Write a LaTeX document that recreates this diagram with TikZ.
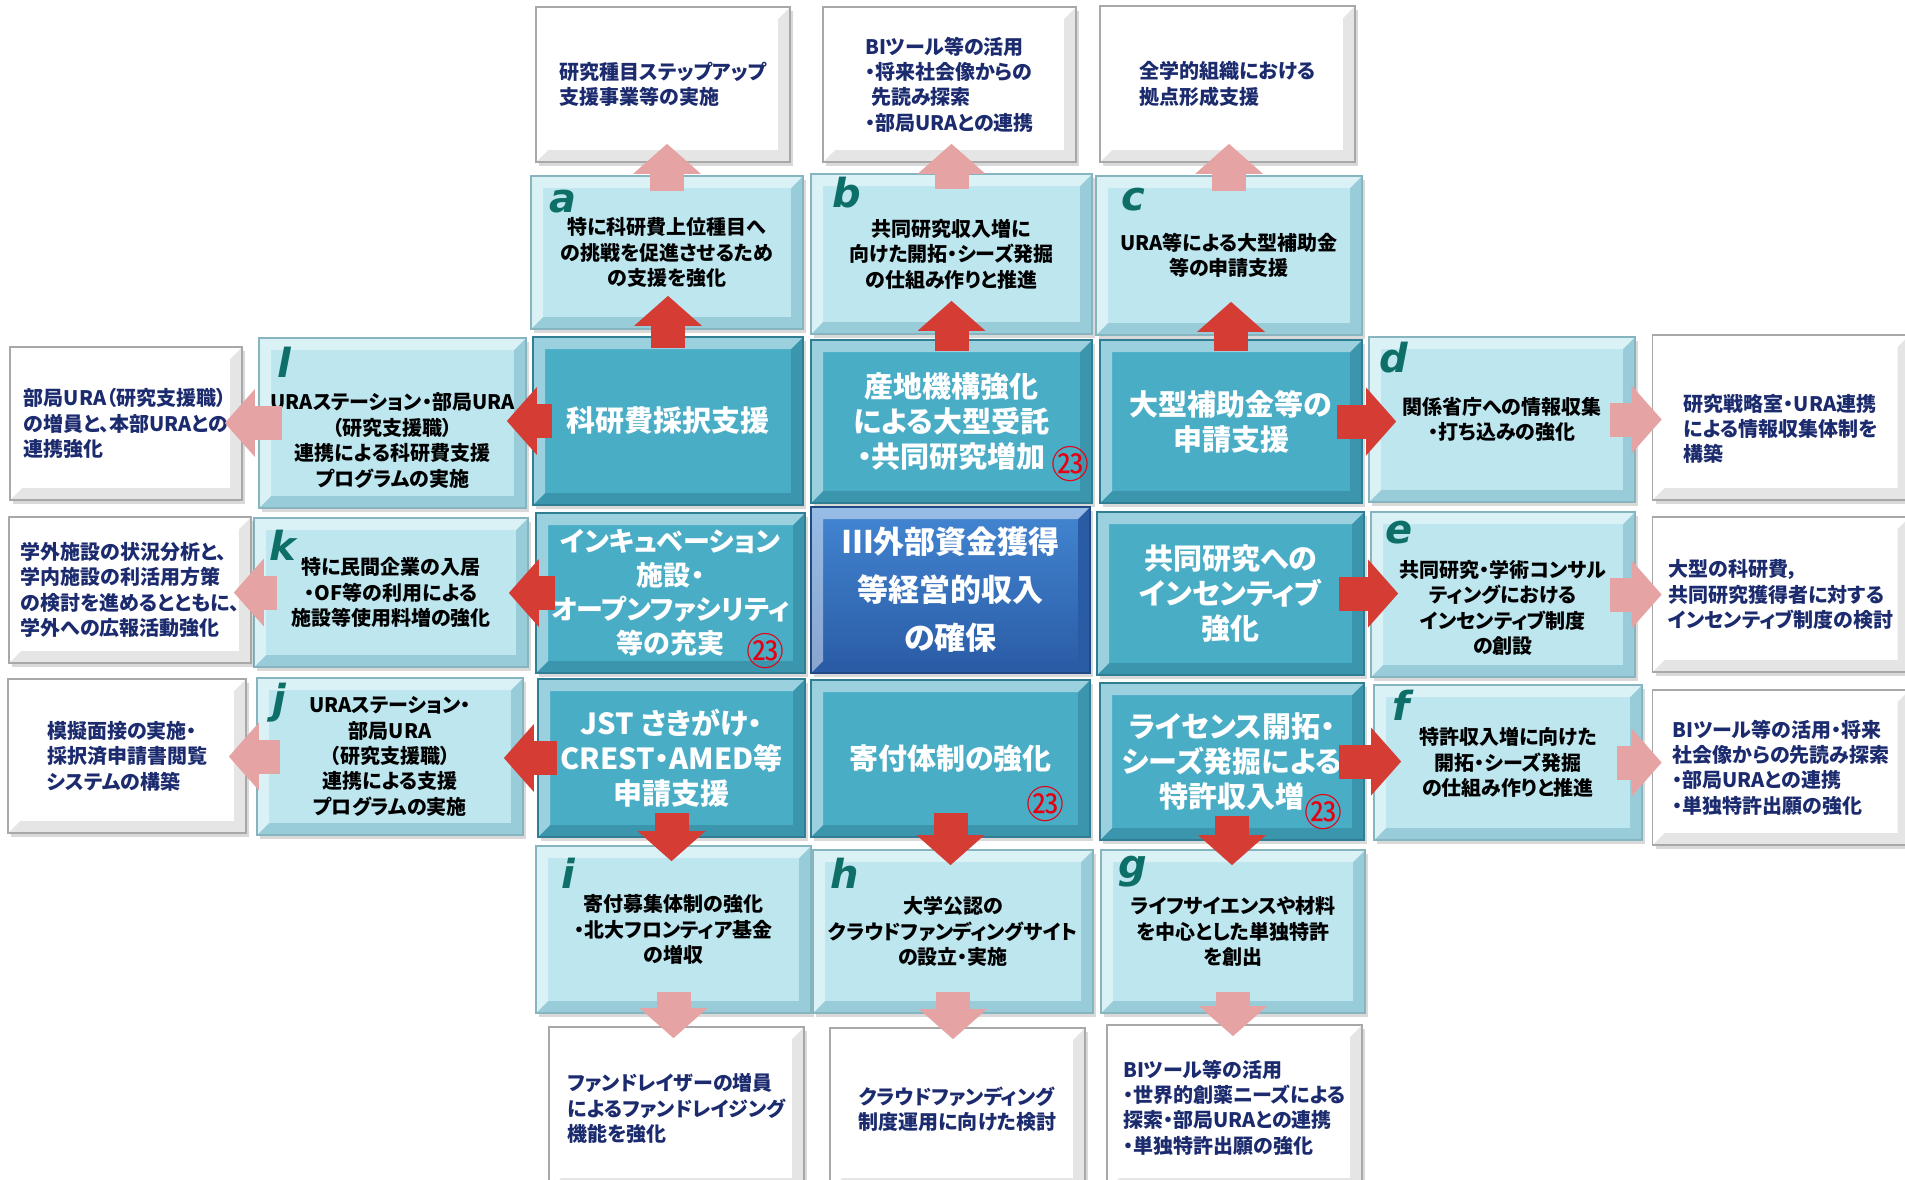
\documentclass[tikz,border=0pt]{standalone}
\usepackage{fontspec}
\setmainfont{Noto Sans CJK JP}[RawFeature=+palt]
\newfontfamily\tagfont{DejaVu Sans}
\usetikzlibrary{arrows.meta,calc,shadows}

\definecolor{navy}{HTML}{1B2B6E}
\definecolor{lightface}{HTML}{BDE6EF}
\definecolor{lightedge}{HTML}{86B5C0}
\definecolor{lightdark}{HTML}{97CCD8}
\definecolor{tealface}{HTML}{4AADC6}
\definecolor{tealedge}{HTML}{2F7E93}
\definecolor{tealdark}{HTML}{3A95AD}
\definecolor{mainA}{HTML}{4386D2}
\definecolor{mainB}{HTML}{2A5BA5}
\definecolor{mainedge}{HTML}{1F4A85}
\definecolor{whiteedge}{HTML}{A8A8A8}
\definecolor{tagcol}{HTML}{0E6F68}
\definecolor{arrred}{HTML}{D43C34}
\definecolor{arrpink}{HTML}{E6A3A3}
\definecolor{badgered}{HTML}{E60012}

\begin{document}
\begin{tikzpicture}[x=0.5pt, y=-0.5pt,
    bevel/.style={path picture={
        \coordinate (p1) at (path picture bounding box.south west);
        \coordinate (p2) at (path picture bounding box.south east);
        \coordinate (p3) at (path picture bounding box.north east);
        \coordinate (p4) at (path picture bounding box.north west);
        \fill[#1] (p1) -- (p2) -- (p3) -- ([shift={(-6pt,-6pt)}]p3) -- ([shift={(-6pt,6pt)}]p2) -- ([shift={(6pt,6pt)}]p1) -- cycle;
        \fill[white, opacity=.45] (p1) -- (p4) -- (p3) -- ([shift={(-6pt,-6pt)}]p3) -- ([shift={(6pt,-6pt)}]p4) -- ([shift={(6pt,6pt)}]p1) -- cycle;
    }},
    box/.style={rectangle, inner sep=2pt, align=center, line width=0.8pt,
        drop shadow={opacity=.3, shadow xshift=1.5pt, shadow yshift=-2pt}},
    whitebox/.style={box, draw=whiteedge, fill=white, bevel=black!10, text=navy, align=left,
        font=\bfseries\fontsize{10pt}{12.7pt}\selectfont},
    lightbox/.style={box, draw=lightedge, fill=lightface, bevel=lightdark, text=black,
        font=\bfseries\fontsize{10pt}{12.7pt}\selectfont},
    tealbox/.style={box, draw=tealedge, fill=tealface, bevel=tealdark, text=white,
        font=\bfseries\fontsize{14.5pt}{17.5pt}\selectfont},
    mainbox/.style={box, draw=mainedge, top color=mainA, bottom color=mainB, bevel=mainB, text=white,
        font=\bfseries\fontsize{15.5pt}{24pt}\selectfont},
    tag/.style={anchor=base west, inner sep=0pt, text=tagcol,
        font=\tagfont\bfseries\itshape\fontsize{20pt}{20pt}\selectfont},
    badge/.style={inner sep=0pt, text=badgered, font=\fontsize{19pt}{19pt}\selectfont},
    redarr/.style={draw=arrred, line width=17pt, -{Triangle[length=15pt,width=33pt]}},
    pinkarr/.style={draw=arrpink, line width=17pt, -{Triangle[length=15pt,width=33pt]}}
  ]
  \useasboundingbox (0,0) rectangle (1905,1179);

  % top row
  \node[whitebox, minimum width=127pt, minimum height=77.5pt] (aout) at (663,84.5) {研究種目ステップアップ\\支援事業等の実施};
  \node[whitebox, minimum width=126.5pt, minimum height=77.5pt] (bout) at (949.5,84.5) {BIツール等の活用\\・将来社会像からの\\\hspace*{0.3em}先読み探索\\・部局URAとの連携};
  \node[whitebox, minimum width=127.5pt, minimum height=78pt] (cout) at (1227.5,84) {全学的組織における\\拠点形成支援};
  \node[lightbox, minimum width=136pt, minimum height=76.5pt] (a) at (667,252.5) {特に科研費上位種目へ\\の挑戦を促進させるため\\の支援を強化};
  \node[lightbox, minimum width=140.5pt, minimum height=80pt] (b) at (951.5,254) {共同研究収入増に\\向けた開拓・シーズ発掘\\の仕組み作りと推進};
  \node[lightbox, minimum width=133pt, minimum height=79.5pt] (c) at (1229,255.5) {URA等による大型補助金\\等の申請支援};

  % middle block
  \node[tealbox, minimum width=135pt, minimum height=84pt] (kaken) at (668,421) {科研費採択支援};
  \node[tealbox, minimum width=140.5pt, minimum height=81.5pt] (santi) at (951.5,421.5) {産地機構強化\\による大型受託\\・共同研究増加};
  \node[tealbox, minimum width=131pt, minimum height=81.5pt] (daikei) at (1231,421.5) {大型補助金等の\\申請支援};
  \node[tealbox, minimum width=134.5pt, minimum height=80pt, font=\bfseries\fontsize{13.5pt}{17pt}\selectfont] (incub) at (670.5,593) {インキュベーション\\施設・\\オープンファシリティ\\等の充実};
  \node[mainbox, minimum width=139.5pt, minimum height=83pt] (main) at (950.5,590) {Ⅲ外部資金獲得\\等経営的収入\\の確保};
  \node[tealbox, minimum width=133.5pt, minimum height=81.5pt] (kyodo) at (1230.5,593.5) {共同研究への\\インセンティブ\\強化};
  \node[tealbox, minimum width=133.5pt, minimum height=79pt] (jst) at (671.5,758) {JST さきがけ・\\CREST・AMED等\\申請支援};
  \node[tealbox, minimum width=139.5pt, minimum height=78.5pt] (kifu) at (950.5,758.5) {寄付体制の強化};
  \node[tealbox, minimum width=132pt, minimum height=78.5pt] (license) at (1232,761.5) {ライセンス開拓・\\シーズ発掘による\\特許収入増};

  % right side
  \node[lightbox, minimum width=133pt, minimum height=82.5pt] (d) at (1502,419.5) {関係省庁への情報収集\\・打ち込みの強化};
  \node[whitebox, minimum width=128.5pt, minimum height=82.5pt] (dout) at (1781,417.5) {\rule{0pt}{20pt}研究戦略室・URA連携\\による情報収集体制を\\構築};
  \node[lightbox, minimum width=132pt, minimum height=82.5pt] (e) at (1503,594.5) {\rule{0pt}{22pt}共同研究・学術コンサル\\ティングにおける\\インセンティブ制度\\の創設};
  \node[whitebox, minimum width=128.5pt, minimum height=77.5pt] (eout) at (1781,594.5) {大型の科研費，\\共同研究獲得者に対する\\インセンティブ制度の検討};
  \node[lightbox, minimum width=134pt, minimum height=77.5pt] (f) at (1508,762.5) {特許収入増に向けた\\開拓・シーズ発掘\\の仕組み作りと推進};
  \node[whitebox, minimum width=128.5pt, minimum height=77.5pt] (fout) at (1781,767.5) {BIツール等の活用・将来\\社会像からの先読み探索\\・部局URAとの連携\\・単独特許出願の強化};

  % left side
  \node[lightbox, minimum width=133.5pt, minimum height=85pt] (l) at (392.5,423) {\rule{0pt}{26pt}URAステーション・部局URA\\（研究支援職）\\連携による科研費支援\\プログラムの実施};
  \node[whitebox, minimum width=116pt, minimum height=76.5pt] (lout) at (126,423.5) {部局URA（研究支援職）\\の増員と、本部URAとの\\連携強化};
  \node[lightbox, minimum width=137pt, minimum height=74.5pt] (k) at (391,592.5) {特に民間企業の入居\\・OF等の利用による\\施設等使用料増の強化};
  \node[whitebox, minimum width=121pt, minimum height=73pt] (kout) at (130,590) {学外施設の状況分析と、\\学内施設の利活用方策\\の検討を進めるとともに、\\学外への広報活動強化};
  \node[lightbox, minimum width=133pt, minimum height=78.5pt] (j) at (390,756.5) {URAステーション・\\部局URA\\（研究支援職）\\連携による支援\\プログラムの実施};
  \node[whitebox, minimum width=119pt, minimum height=77pt] (jout) at (127,756) {模擬面接の実施・\\採択済申請書閲覧\\システムの構築};

  % bottom rows
  \node[lightbox, minimum width=137.5pt, minimum height=83.5pt] (i) at (673.5,929.5) {寄付募集体制の強化\\・北大フロンティア基金\\の増収};
  \node[lightbox, minimum width=140pt, minimum height=81.5pt] (h) at (953,931.5) {大学公認の\\クラウドファンディングサイト\\の設立・実施};
  \node[lightbox, minimum width=132pt, minimum height=81.5pt] (g) at (1233,931.5) {ライフサイエンスや材料\\を中心とした単独特許\\を創出};
  \node[whitebox, minimum width=127.5pt, minimum height=81.5pt] (iout) at (676.5,1108.5) {ファンドレイザーの増員\\によるファンドレイジング\\機能を強化};
  \node[whitebox, minimum width=127.5pt, minimum height=81pt] (hout) at (957.5,1109) {クラウドファンディング\\制度運用に向けた検討};
  \node[whitebox, minimum width=127.5pt, minimum height=82.5pt] (gout) at (1234.5,1107.5) {BIツール等の活用\\・世界的創薬ニーズによる\\探索・部局URAとの連携\\・単独特許出願の強化};

  % letters and marks
  \node[tag] (ta) at (549,212) {a};
  \node[tag] (tb) at (832,207) {b};
  \node[tag] (tc) at (1121,210) {c};
  \node[tag] (td) at (1379,372) {d};
  \node[tag] (te) at (1385,543) {e};
  \node[tag] (tf) at (1392,720) {f};
  \node[tag] (tg) at (1118,878) {g};
  \node[tag] (th) at (830,888) {h};
  \node[tag] (ti) at (561,888) {i};
  \node[tag] (tj) at (272,713) {j};
  \node[tag] (tk) at (269,560) {k};
  \node[tag] (tl) at (277,377) {l};
  \node[badge] (n1) at (1070,464) {㉓};
  \node[badge] (n2) at (765,651) {㉓};
  \node[badge] (n3) at (1045,804) {㉓};
  \node[badge] (n4) at (1323,812) {㉓};

  % arrows
  \path ([yshift=-6pt]kaken.north) edge[redarr] ($(kaken.north |- a.south)+(0,17pt)$);
  \path ([yshift=-6pt]santi.north) edge[redarr] ($(santi.north |- b.south)+(0,17pt)$);
  \path ([yshift=-6pt]daikei.north) edge[redarr] ($(daikei.north |- c.south)+(0,17pt)$);
  \path ([yshift=-8pt]a.north) edge[pinkarr] ($(a.north |- aout.south)+(0,9.5pt)$);
  \path ([yshift=-8pt]b.north) edge[pinkarr] ($(b.north |- bout.south)+(0,9.5pt)$);
  \path ([yshift=-8pt]c.north) edge[pinkarr] ($(c.north |- cout.south)+(0,9.5pt)$);

  \path ([xshift=-13pt]daikei.east) edge[redarr] ($(d.west |- daikei.east)+(14pt,0)$);
  \path ([xshift=-13pt]kyodo.east) edge[redarr] ($(e.west |- kyodo.east)+(14pt,0)$);
  \path ([xshift=-13pt]license.east) edge[redarr] ($(f.west |- license.east)+(14pt,0)$);
  \path ([xshift=-13pt]d.east) edge[pinkarr] ($(dout.west |- d.east)+(5pt,0)$);
  \path ([xshift=-13pt]e.east) edge[pinkarr] ($(eout.west |- e.east)+(5pt,0)$);
  \path ([xshift=-13pt]f.east) edge[pinkarr] ($(fout.west |- f.east)+(5pt,0)$);

  \path ([xshift=10pt]kaken.west) edge[redarr] ($(l.east |- kaken.west)+(-10pt,0)$);
  \path ([xshift=10pt]incub.west) edge[redarr] ($(k.east |- incub.west)+(-10pt,0)$);
  \path ([xshift=10pt]jst.west) edge[redarr] ($(j.east |- jst.west)+(-10pt,0)$);
  \path ([xshift=12pt]l.west) edge[pinkarr] ($(lout.east |- l.west)+(-9pt,0)$);
  \path ([xshift=12pt]k.west) edge[pinkarr] ($(kout.east |- k.west)+(-9pt,0)$);
  \path ([xshift=12pt]j.west) edge[pinkarr] ($(jout.east |- j.west)+(-9pt,0)$);

  \path ([yshift=12.5pt]jst.south) edge[redarr] ($(jst.south |- i.north)+(0,-8pt)$);
  \path ([yshift=12.5pt]kifu.south) edge[redarr] ($(kifu.south |- h.north)+(0,-8pt)$);
  \path ([yshift=12.5pt]license.south) edge[redarr] ($(license.south |- g.north)+(0,-8pt)$);
  \path ([yshift=11pt]i.south) edge[pinkarr] ($(i.south |- iout.north)+(0,-6pt)$);
  \path ([yshift=11pt]h.south) edge[pinkarr] ($(h.south |- hout.north)+(0,-6pt)$);
  \path ([yshift=11pt]g.south) edge[pinkarr] ($(g.south |- gout.north)+(0,-6pt)$);
\end{tikzpicture}
\end{document}
